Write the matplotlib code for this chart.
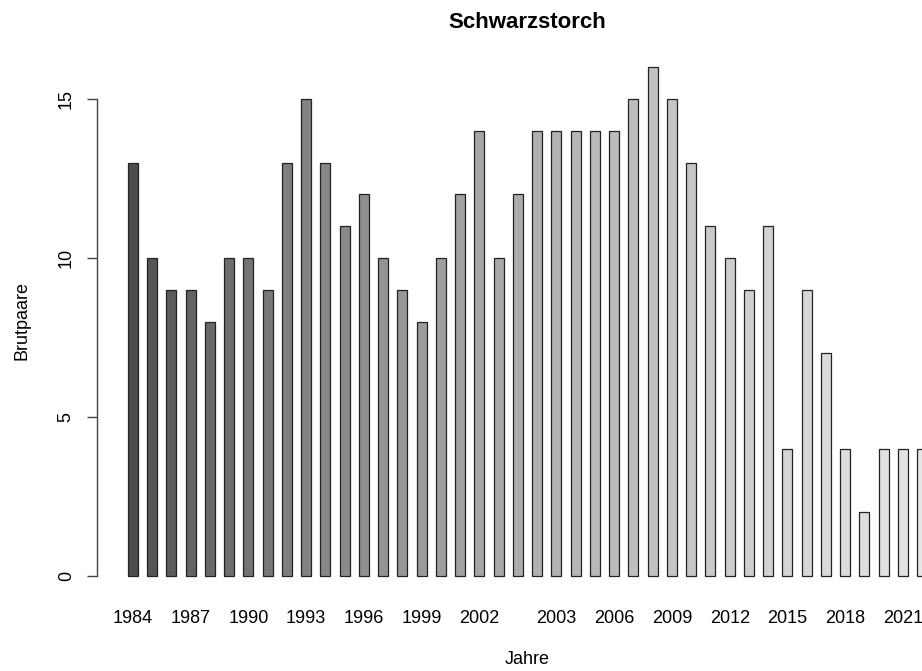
import numpy as np
import matplotlib
matplotlib.use("Agg")
import matplotlib.pyplot as plt

plt.rcParams["font.family"] = ["Liberation Sans", "DejaVu Sans"]

# Brutpaare Schwarzstorch, one value per bar (the last bar is cut at the right edge)
brutpaare = [13, 10, 9, 9, 8, 10, 10, 9, 13, 15, 13, 11, 12, 10, 9, 8, 10, 12, 14, 10,
             12, 14, 14, 14, 14, 14, 15, 16, 15, 13, 11, 10, 9, 11, 4, 9, 7, 4, 2, 4,
             4, 4]
# bar index -> year label that is printed under it
label_pos = [0, 3, 6, 9, 12, 15, 18, 22, 25, 28, 31, 34, 37, 40]
label_txt = ["1984", "1987", "1990", "1993", "1996", "1999", "2002",
             "2003", "2006", "2009", "2012", "2015", "2018", "2021"]
y_ticks = [0, 5, 10, 15]


def gray_colors(n, start=0.3, end=0.9, gamma=2.2):
    # same ramp as R's gray.colors()
    levels = np.linspace(start ** gamma, end ** gamma, n) ** (1 / gamma)
    return [(g, g, g) for g in levels]


def main():
    W, H = 922, 671
    fig = plt.figure(figsize=(W / 100, H / 100), dpi=100)
    ax = fig.add_axes((97 / W, 75 / H, 1 - 97 / W, (596 - 47) / H))

    x = np.arange(len(brutpaare))
    ax.bar(x, brutpaare, width=0.52, color=gray_colors(len(brutpaare)),
           edgecolor="#222222", linewidth=0.9)

    ax.set_xlim(-1.87, 40.99)
    ax.set_ylim(-0.64, 16.64)

    for side in ["top", "right", "bottom"]:
        ax.spines[side].set_visible(False)
    ax.spines["left"].set_bounds(0, 15)
    ax.spines["left"].set_color("#444444")
    ax.spines["left"].set_linewidth(1.0)

    ax.set_yticks(y_ticks)
    ax.set_yticklabels([str(t) for t in y_ticks], rotation=90, va="center",
                       fontsize=13)
    ax.tick_params(axis="y", length=7, width=1.0, color="#444444", pad=9)

    ax.set_xticks(label_pos)
    ax.set_xticklabels(label_txt, fontsize=13)
    ax.tick_params(axis="x", length=0, pad=10)

    fig.text(527 / W, 1 - 22 / H, "Schwarzstorch", ha="center", va="center",
             fontsize=16, fontweight="bold")
    fig.text(527 / W, 1 - 660 / H, "Jahre", ha="center", va="center",
             fontsize=13)
    fig.text(22 / W, 1 - 321 / H, "Brutpaare", ha="center", va="center",
             rotation=90, fontsize=13)

    fig.savefig("out.png", dpi=100)


main()
